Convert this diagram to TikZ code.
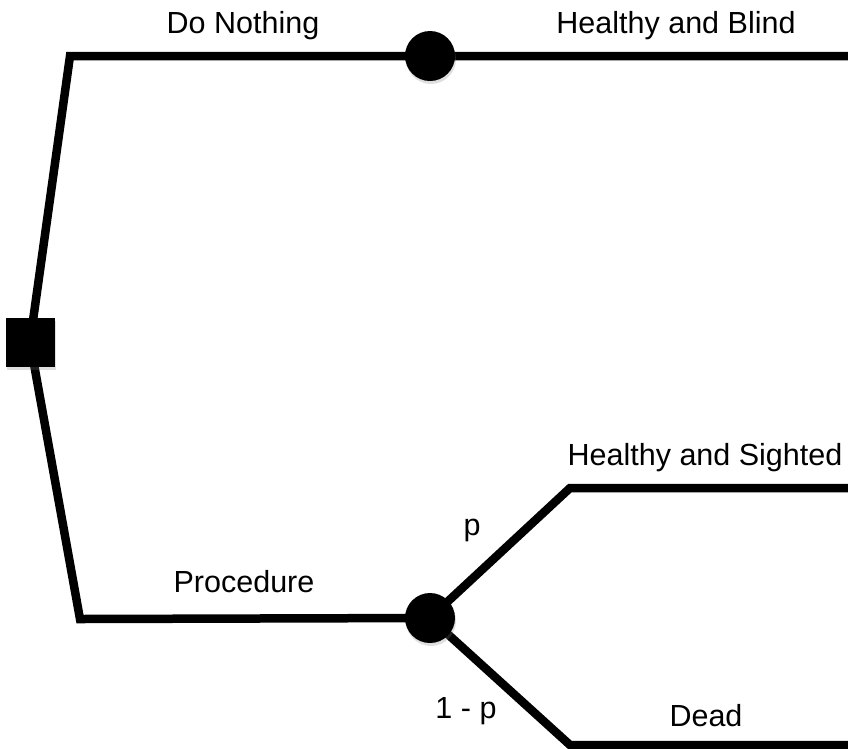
\documentclass[tikz,border=0pt]{standalone}
\usepackage{fontspec}
\setmainfont{Liberation Sans}
\usetikzlibrary{shadows,backgrounds}
\begin{document}
\begin{tikzpicture}[x=1pt,y=-1pt,
  branch/.style={line width=8.5pt, line join=miter},
  decision/.style={rectangle, fill=black, minimum size=49pt, inner sep=0pt,
    drop shadow={shadow xshift=1pt, shadow yshift=-3pt, opacity=0.25}},
  chance/.style={circle, fill=black, minimum size=50pt, inner sep=0pt,
    drop shadow={shadow xshift=1pt, shadow yshift=-3pt, opacity=0.25}},
  lbl/.style={font=\fontsize{30.5}{36}\selectfont, anchor=base, inner sep=0pt}]
\useasboundingbox (0,0) rectangle (848,748);
% nodes
\node[decision] (dec) at (30,342) {};
\node[chance] (c1) at (430,56) {};
\node[chance] (c2) at (430,618) {};
\coordinate (tl) at (70,56);
\coordinate (bl) at (80,619);
\coordinate (te) at (848,56);
\coordinate (uk) at (570,488);
\coordinate (ue) at (848,488);
\coordinate (lk) at (570,745);
\coordinate (le) at (848,745);
\begin{scope}[on background layer]
\draw[branch] (dec.center) -- (tl) -- (c1.center) -- (te);
\draw[branch] (dec.center) -- (bl) -- (c2.center);
\draw[branch] (c2.center) -- (uk) -- (ue);
\draw[branch] (c2.center) -- (lk) -- (le);
\end{scope}
% labels
\node[lbl] (ldo) at (243,33) {Do Nothing};
\node[lbl] (lhb) at (676,33) {Healthy and Blind};
\node[lbl] (lhs) at (705,465) {Healthy and Sighted};
\node[lbl] (lp) at (472,535) {p};
\node[lbl] (lpr) at (244,592) {Procedure};
\node[lbl] (l1p) at (466,718) {1 - p};
\node[lbl] (ldd) at (706,726) {Dead};
\end{tikzpicture}
\end{document}
